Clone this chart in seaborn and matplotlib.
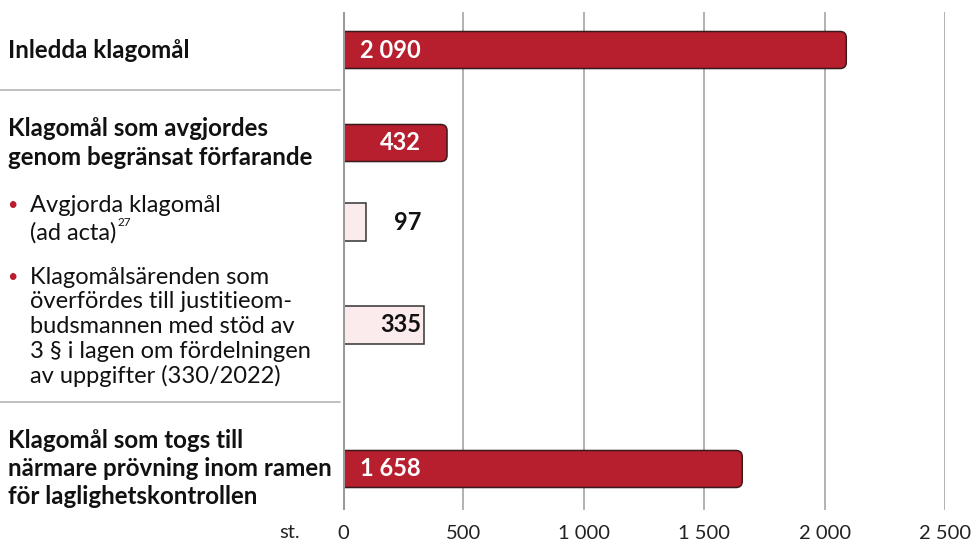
import matplotlib
matplotlib.use("Agg")
import matplotlib.pyplot as plt
import pandas as pd
import seaborn as sns
from matplotlib.patches import FancyBboxPatch, Rectangle

# -----------------------------
# data
# -----------------------------
values = [2090, 432, 97, 335, 1658]
value_labels = ["2 090", "432", "97", "335", "1 658"]
is_main = [True, True, False, False, True]
x_ticks = [0, 500, 1000, 1500, 2000, 2500]
x_tick_labels = ["0", "500", "1 000", "1 500", "2 000", "2 500"]
unit_label = "st."

header_1 = ["Inledda klagomål"]
header_2 = ["Klagomål som avgjordes", "genom begränsat förfarande"]
sub_1 = ["Avgjorda klagomål", "(ad acta)"]
sub_1_note = "27"
sub_2 = ["Klagomålsärenden som", "överfördes till justitieom-",
         "budsmannen med stöd av", "3 § i lagen om fördelningen",
         "av uppgifter (330/2022)"]
header_3 = ["Klagomål som togs till", "närmare prövning inom ramen",
            "för laglighetskontrollen"]

# layout (pixel rows of bar centres)
bar_rows = [50, 143, 222, 325, 469]

RED = "#b71f2e"
PINK = "#fcebec"
W, H = 974, 543

sns.set_theme(style="white")
plt.rcParams["font.family"] = ["Lato", "DejaVu Sans"]

fig = plt.figure(figsize=(W / 100, H / 100), dpi=100)
ax = fig.add_axes([343 / W, 33 / H, 602 / W, 498 / H])

df = pd.DataFrame({"value": values, "row": bar_rows})
sns.barplot(data=df, x="value", y="row", orient="h", native_scale=True,
            color=RED, ax=ax)

# replace the plain bars with styled ones
px_per_unit = 602 / 2500
for p in list(ax.patches):
    p.remove()
for v, r, main in zip(values, bar_rows, is_main):
    if main:
        box = FancyBboxPatch((-80, r - 18.5), v + 80, 37,
                             boxstyle="round,pad=0,rounding_size=26",
                             mutation_aspect=px_per_unit,
                             facecolor=RED, edgecolor="#3b1a1c", lw=1.1, zorder=3)
    else:
        box = Rectangle((-80, r - 19), v + 80, 38, facecolor=PINK,
                        edgecolor="#333333", lw=1.1, zorder=3)
    ax.add_patch(box)

ax.set_xlim(0, 2500)
ax.set_ylim(510, 12)
ax.set_xticks(x_ticks)
ax.set_xticklabels(x_tick_labels, fontsize=14.5, color="#222222")
ax.set_yticks([])
ax.set_xlabel("")
ax.set_ylabel("")
ax.tick_params(axis="x", length=0, pad=11)
ax.grid(axis="x", color="#ababab", lw=1.3)
ax.axvline(0, color="#9a9a9a", lw=2.2, zorder=4)
for s in ax.spines.values():
    s.set_visible(False)

# value labels, right aligned at a fixed spot
for v, r, lab, main in zip(values, bar_rows, value_labels, is_main):
    ax.text(324, r, lab, ha="right", va="center", fontsize=17,
            fontweight="bold", color="white" if main else "#111111", zorder=5)

fig.text(300 / W, 1 - 533 / H, unit_label, ha="right", va="center",
         fontsize=14.5, color="#222222")


def put_lines(lines, x, y0, step, bold):
    out = []
    for i, t in enumerate(lines):
        out.append(fig.text(x / W, 1 - (y0 + i * step) / H, t, ha="left",
                            va="center", fontsize=17.4 if bold else 17,
                            fontweight="bold" if bold else "normal",
                            color="#111111"))
    return out


put_lines(header_1, 8, 50, 0, True)
put_lines(header_2, 8, 129, 28.5, True)
sub_texts = put_lines(sub_1, 30, 205, 28, False)
put_lines(sub_2, 30, 277, 24.7, False)
put_lines(header_3, 8, 441, 28, True)

# superscript note, placed right after "(ad acta)"
renderer = fig.canvas.get_renderer()
bb = sub_texts[1].get_window_extent(renderer)
fig.text((bb.x1 + 1) / W, 1 - 222 / H, sub_1_note, fontsize=8.5,
         color="#111111", ha="left", va="center")

# bullets
for by in [205, 277]:
    fig.text(12 / W, 1 - by / H, "•", color=RED, fontsize=13,
             ha="center", va="center")

# separators
for sy in [90, 402]:
    fig.add_artist(plt.Line2D([0, 340 / W], [1 - sy / H] * 2,
                              color="#b5b5b5", lw=1.2))

fig.savefig("out.png", dpi=100)
